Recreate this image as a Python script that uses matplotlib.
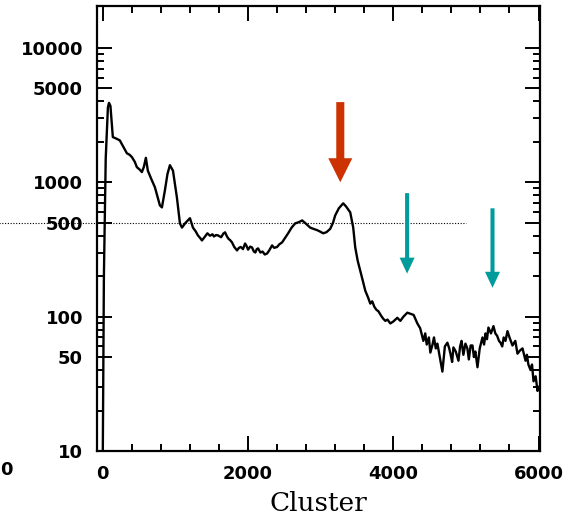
#!/usr/bin/env python3
"""Cluster spectrum on a log scale, with the marked peaks."""
import matplotlib
matplotlib.use("Agg")
import matplotlib.pyplot as plt
from matplotlib.ticker import FixedLocator, NullFormatter

# counts per cluster bin (20 values per row)
cluster = [
    0, 15, 40, 70, 85, 105, 138, 180, 234, 280, 331, 370, 400, 440, 469, 510, 538, 565, 593, 620,
    670, 717, 760, 786, 814, 855, 890, 924, 966, 1020, 1062, 1090, 1140, 1200, 1241, 1280, 1310, 1340, 1365, 1400,
    1440, 1476, 1510, 1530, 1560, 1586, 1630, 1660, 1683, 1710, 1730, 1755, 1779, 1810, 1848, 1875, 1900, 1930, 1959, 1980,
    2000, 2030, 2055, 2080, 2100, 2120, 2138, 2170, 2200, 2230, 2262, 2290, 2331, 2360, 2400, 2430, 2469, 2510, 2552, 2600,
    2648, 2700, 2745, 2800, 2855, 2900, 2952, 2990, 3034, 3080, 3131, 3170, 3200, 3250, 3310, 3350, 3407, 3448, 3476, 3510,
    3545, 3580, 3614, 3650, 3683, 3710, 3740, 3770, 3793, 3820, 3840, 3865, 3890, 3920, 3959, 4000, 4055, 4097, 4140, 4193,
    4234, 4280, 4331, 4370, 4414, 4440, 4460, 4490, 4510, 4540, 4560, 4585, 4607, 4640, 4676, 4710, 4745, 4770, 4790, 4810,
    4828, 4860, 4897, 4920, 4940, 4965, 4993, 5020, 5040, 5065, 5090, 5110, 5130, 5159, 5190, 5228, 5250, 5270, 5290, 5310,
    5345, 5379, 5405, 5430, 5455, 5476, 5500, 5520, 5545, 5572, 5600, 5641, 5680, 5710, 5745, 5779, 5800, 5821, 5840, 5860,
    5890, 5910, 5931, 5960, 5986, 6000,
]
counts = [
    10, 200, 1500, 3600, 3900, 3700, 2170, 2120, 2050, 1850, 1645, 1600, 1540, 1420, 1295, 1240, 1190, 1300, 1520, 1220,
    1050, 919, 760, 673, 650, 870, 1150, 1340, 1220, 773, 494, 460, 500, 540, 460, 430, 402, 385, 369, 390,
    417, 400, 410, 395, 405, 402, 390, 415, 424, 395, 380, 370, 357, 330, 311, 325, 330, 318, 350, 335,
    315, 332, 327, 305, 300, 318, 322, 300, 305, 290, 295, 310, 339, 325, 330, 345, 357, 385, 417, 460,
    494, 505, 520, 490, 460, 450, 440, 430, 417, 425, 450, 500, 567, 640, 697, 660, 597, 460, 327, 260,
    220, 185, 156, 140, 125, 130, 118, 112, 110, 104, 100, 96, 93, 95, 89, 92, 98, 93, 100, 107,
    105, 103, 89, 82, 66, 75, 62, 70, 54, 62, 70, 58, 63, 50, 39, 60, 64, 58, 52, 46,
    59, 55, 47, 60, 66, 52, 63, 58, 48, 61, 61, 50, 55, 42, 58, 70, 62, 75, 68, 83,
    75, 85, 75, 72, 66, 64, 60, 70, 66, 78, 70, 61, 66, 53, 56, 58, 52, 47, 52, 44,
    40, 44, 33, 36, 28, 30,
]

# (x, top, tip) of the marker arrows
red_arrow = (3270, 3950, 1000)
teal_arrows = [(4190, 830, 209), (5366, 640, 164)]

y_major = [10, 50, 100, 500, 1000, 5000, 10000]
y_minor = [m * d for d in (10, 100, 1000) for m in (2, 3, 4, 6, 7, 8, 9)]
x_major = [0, 2000, 4000, 6000]
x_minor = list(range(400, 6000, 400))

RED = "#cc3300"
TEAL = "#009b9b"


def arrow(ax, x, top, tip, color, tail, head_w, head_l):
    ax.annotate("", xy=(x, tip), xytext=(x, top),
                arrowprops=dict(
                    arrowstyle=f"simple,head_length={head_l},"
                               f"head_width={head_w},tail_width={tail}",
                    mutation_scale=1, color=color, lw=0,
                    shrinkA=0, shrinkB=0))


def main():
    fig = plt.figure(figsize=(5.67, 5.23), dpi=100)
    ax = fig.add_axes([97 / 567, 72 / 523, 443 / 567, 445 / 523])

    ax.plot(cluster, counts, color="black", lw=1.7, solid_joinstyle="round")
    ax.set_yscale("log")
    ax.set_xlim(-80, 6020)
    ax.set_ylim(10, 20500)

    ax.yaxis.set_major_locator(FixedLocator(y_major))
    ax.yaxis.set_minor_locator(FixedLocator(y_minor))
    ax.yaxis.set_minor_formatter(NullFormatter())
    ax.set_yticklabels([str(v) for v in y_major])
    ax.xaxis.set_major_locator(FixedLocator(x_major))
    ax.xaxis.set_minor_locator(FixedLocator(x_minor))
    ax.set_xticklabels([str(v) for v in x_major])

    ax.tick_params(which="both", direction="in", top=True, right=True,
                   width=1.4, labelsize=13)
    ax.tick_params(which="major", length=11, pad=10)
    ax.tick_params(which="minor", length=5)
    for lab in ax.get_xticklabels() + ax.get_yticklabels():
        lab.set_fontweight("bold")
    for sp in ax.spines.values():
        sp.set_linewidth(1.6)

    ax.set_xlabel("Cluster", family="DejaVu Serif", fontsize=19, labelpad=6)

    # dotted level line at 500, runs off the left edge of the figure
    ax.plot([-1500, 5000], [500, 500], color="black", lw=0.8,
            linestyle=(0, (1, 1.5)), clip_on=False)

    x, top, tip = red_arrow
    arrow(ax, x, top, tip, RED, 5.8, 17.3, 17.3)
    for x, top, tip in teal_arrows:
        arrow(ax, x, top, tip, TEAL, 2.9, 10.8, 11.5)

    # stray tick label of the neighbouring panel
    fig.text(6 / 567, 1 - 470 / 523, "0", fontsize=13, fontweight="bold",
             ha="center", va="center")

    fig.savefig("out.png", dpi=100, facecolor="white")
    plt.close(fig)


if __name__ == "__main__":
    main()
